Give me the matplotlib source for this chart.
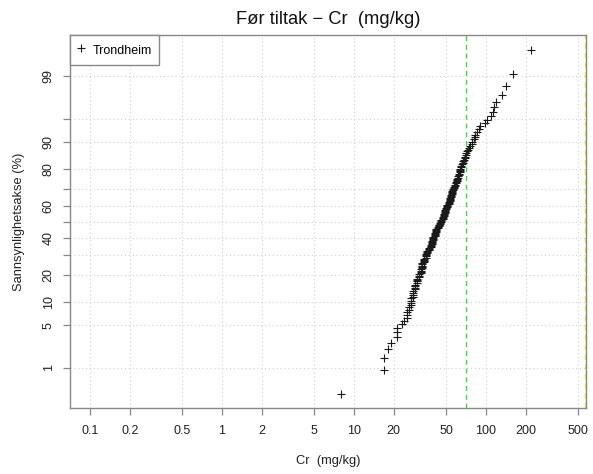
import math
import numpy as np
import matplotlib
matplotlib.use('Agg')
import matplotlib.pyplot as plt

plt.rcParams['font.family'] = ['Liberation Sans', 'DejaVu Sans']

# ---- text ----
title = "Før tiltak \u2212 Cr  (mg/kg)"
xlabel = "Cr  (mg/kg)"
ylabel = "Sannsynlighetsakse (%)"
series_name = "Trondheim"

# ---- data (sorted Cr values, mg/kg) ----
cr_values = [
    8, 17, 17, 18, 19, 21, 21, 21, 23, 24, 25, 25, 25, 26, 26, 27,
    27, 27, 27, 28, 28, 28, 28, 29, 29, 29, 29,
    30, 30, 30, 30, 31, 31, 31, 32, 32, 32, 32,
    33, 33, 33, 33, 33, 34, 34, 34, 34, 35, 35, 35,
    35, 36, 36, 36, 37, 37, 37, 38, 38, 38, 39,
    39, 39, 39, 40, 40,
    40, 40, 41, 41, 41, 41, 42, 42, 42, 42,
    43, 43, 44, 44, 44, 45, 45, 46,
    46, 46, 47, 47, 47, 48, 48, 48, 49, 49, 49, 49, 50,
    50, 51, 51, 51, 52, 52, 52, 53, 53, 53, 53, 54, 54, 54, 55, 55,
    55, 55, 56, 56, 57, 57, 58, 58, 59, 59, 60, 60, 60, 61, 61, 62, 62,
    63, 63, 64, 64, 65, 65, 66, 67, 67,
    68, 69, 69, 70, 71, 72, 73, 74,
    76, 78, 79, 81, 82, 83, 86, 88, 90, 99, 101, 110, 112, 115, 120,
    133, 141, 159, 219,
]

x_ticks = [0.1, 0.2, 0.5, 1, 2, 5, 10, 20, 50, 100, 200, 500]
x_tick_labels = ["0.1", "0.2", "0.5", "1", "2", "5", "10", "20", "50", "100", "200", "500"]
y_ticks_pct = [1, 5, 10, 20, 30, 40, 50, 60, 70, 80, 90, 95, 99]
y_tick_labels = ["1", "5", "10", "20", "", "40", "", "60", "", "80", "90", "", "99"]
guide_green = 70
guide_yellow = 560
xlim = (0.0706, 572)
ylim_pct = (0.15, 99.86)


def norm_ppf(p):
    lo, hi = -12.0, 12.0
    for _ in range(80):
        mid = 0.5 * (lo + hi)
        if 0.5 * (1 + math.erf(mid / math.sqrt(2))) < p:
            lo = mid
        else:
            hi = mid
    return 0.5 * (lo + hi)


n = len(cr_values)
vals = np.sort(np.array(cr_values, dtype=float))
pp = [(i - 0.5) / n for i in range(1, n + 1)]  # R ppoints
zz = np.array([norm_ppf(p) for p in pp])

fig = plt.figure(figsize=(5.93, 4.74), dpi=100)
ax = fig.add_axes([70 / 593, 66 / 474, 516 / 593, 373 / 474])

ax.set_xscale('log')
ax.set_xlim(*xlim)
ax.set_ylim(norm_ppf(ylim_pct[0] / 100), norm_ppf(ylim_pct[1] / 100))

grid_kw = dict(color='#d0d0d0', lw=0.8, ls=(0, (1, 2.5)), zorder=0)
for xt in x_ticks:
    ax.axvline(xt, **grid_kw)
for yt in y_ticks_pct:
    ax.axhline(norm_ppf(yt / 100), **grid_kw)

ax.axvline(guide_green, color='#33dd33', lw=0.9, ls=(0, (4, 3)), zorder=1)
ax.axvline(guide_yellow, color='#eeee33', lw=1.0, ls=(0, (4, 3)), zorder=1)

ax.plot(vals, zz, ls='none', marker='+', color='#1a1a1a', ms=6, mew=0.8,
        label=series_name, zorder=3)

ax.set_xticks(x_ticks)
ax.set_xticklabels(x_tick_labels)
ax.xaxis.set_minor_locator(matplotlib.ticker.NullLocator())
ax.set_yticks([norm_ppf(p / 100) for p in y_ticks_pct])
ax.set_yticklabels(y_tick_labels, rotation=90, va='center')

ax.tick_params(axis='both', which='major', length=5, width=0.9,
               color='#888888', labelsize=9, labelcolor='#222222')
ax.tick_params(axis='x', pad=7)
ax.tick_params(axis='y', pad=6)

for sp in ax.spines.values():
    sp.set_color('#888888')
    sp.set_linewidth(1.0)

ax.set_title(title, fontsize=13.2, color='#111111', pad=8)
ax.set_xlabel(xlabel, fontsize=9.3, color='#222222', labelpad=13)
ax.set_ylabel(ylabel, fontsize=9.3, color='#222222', labelpad=13)

leg = ax.legend(loc='upper left', borderaxespad=0, fancybox=False,
                framealpha=1, edgecolor='#888888', fontsize=9,
                handlelength=0.76, handleheight=1.75, handletextpad=0.58,
                borderpad=0.5)
leg.get_frame().set_linewidth(1.0)

fig.savefig('out.png', dpi=100)
